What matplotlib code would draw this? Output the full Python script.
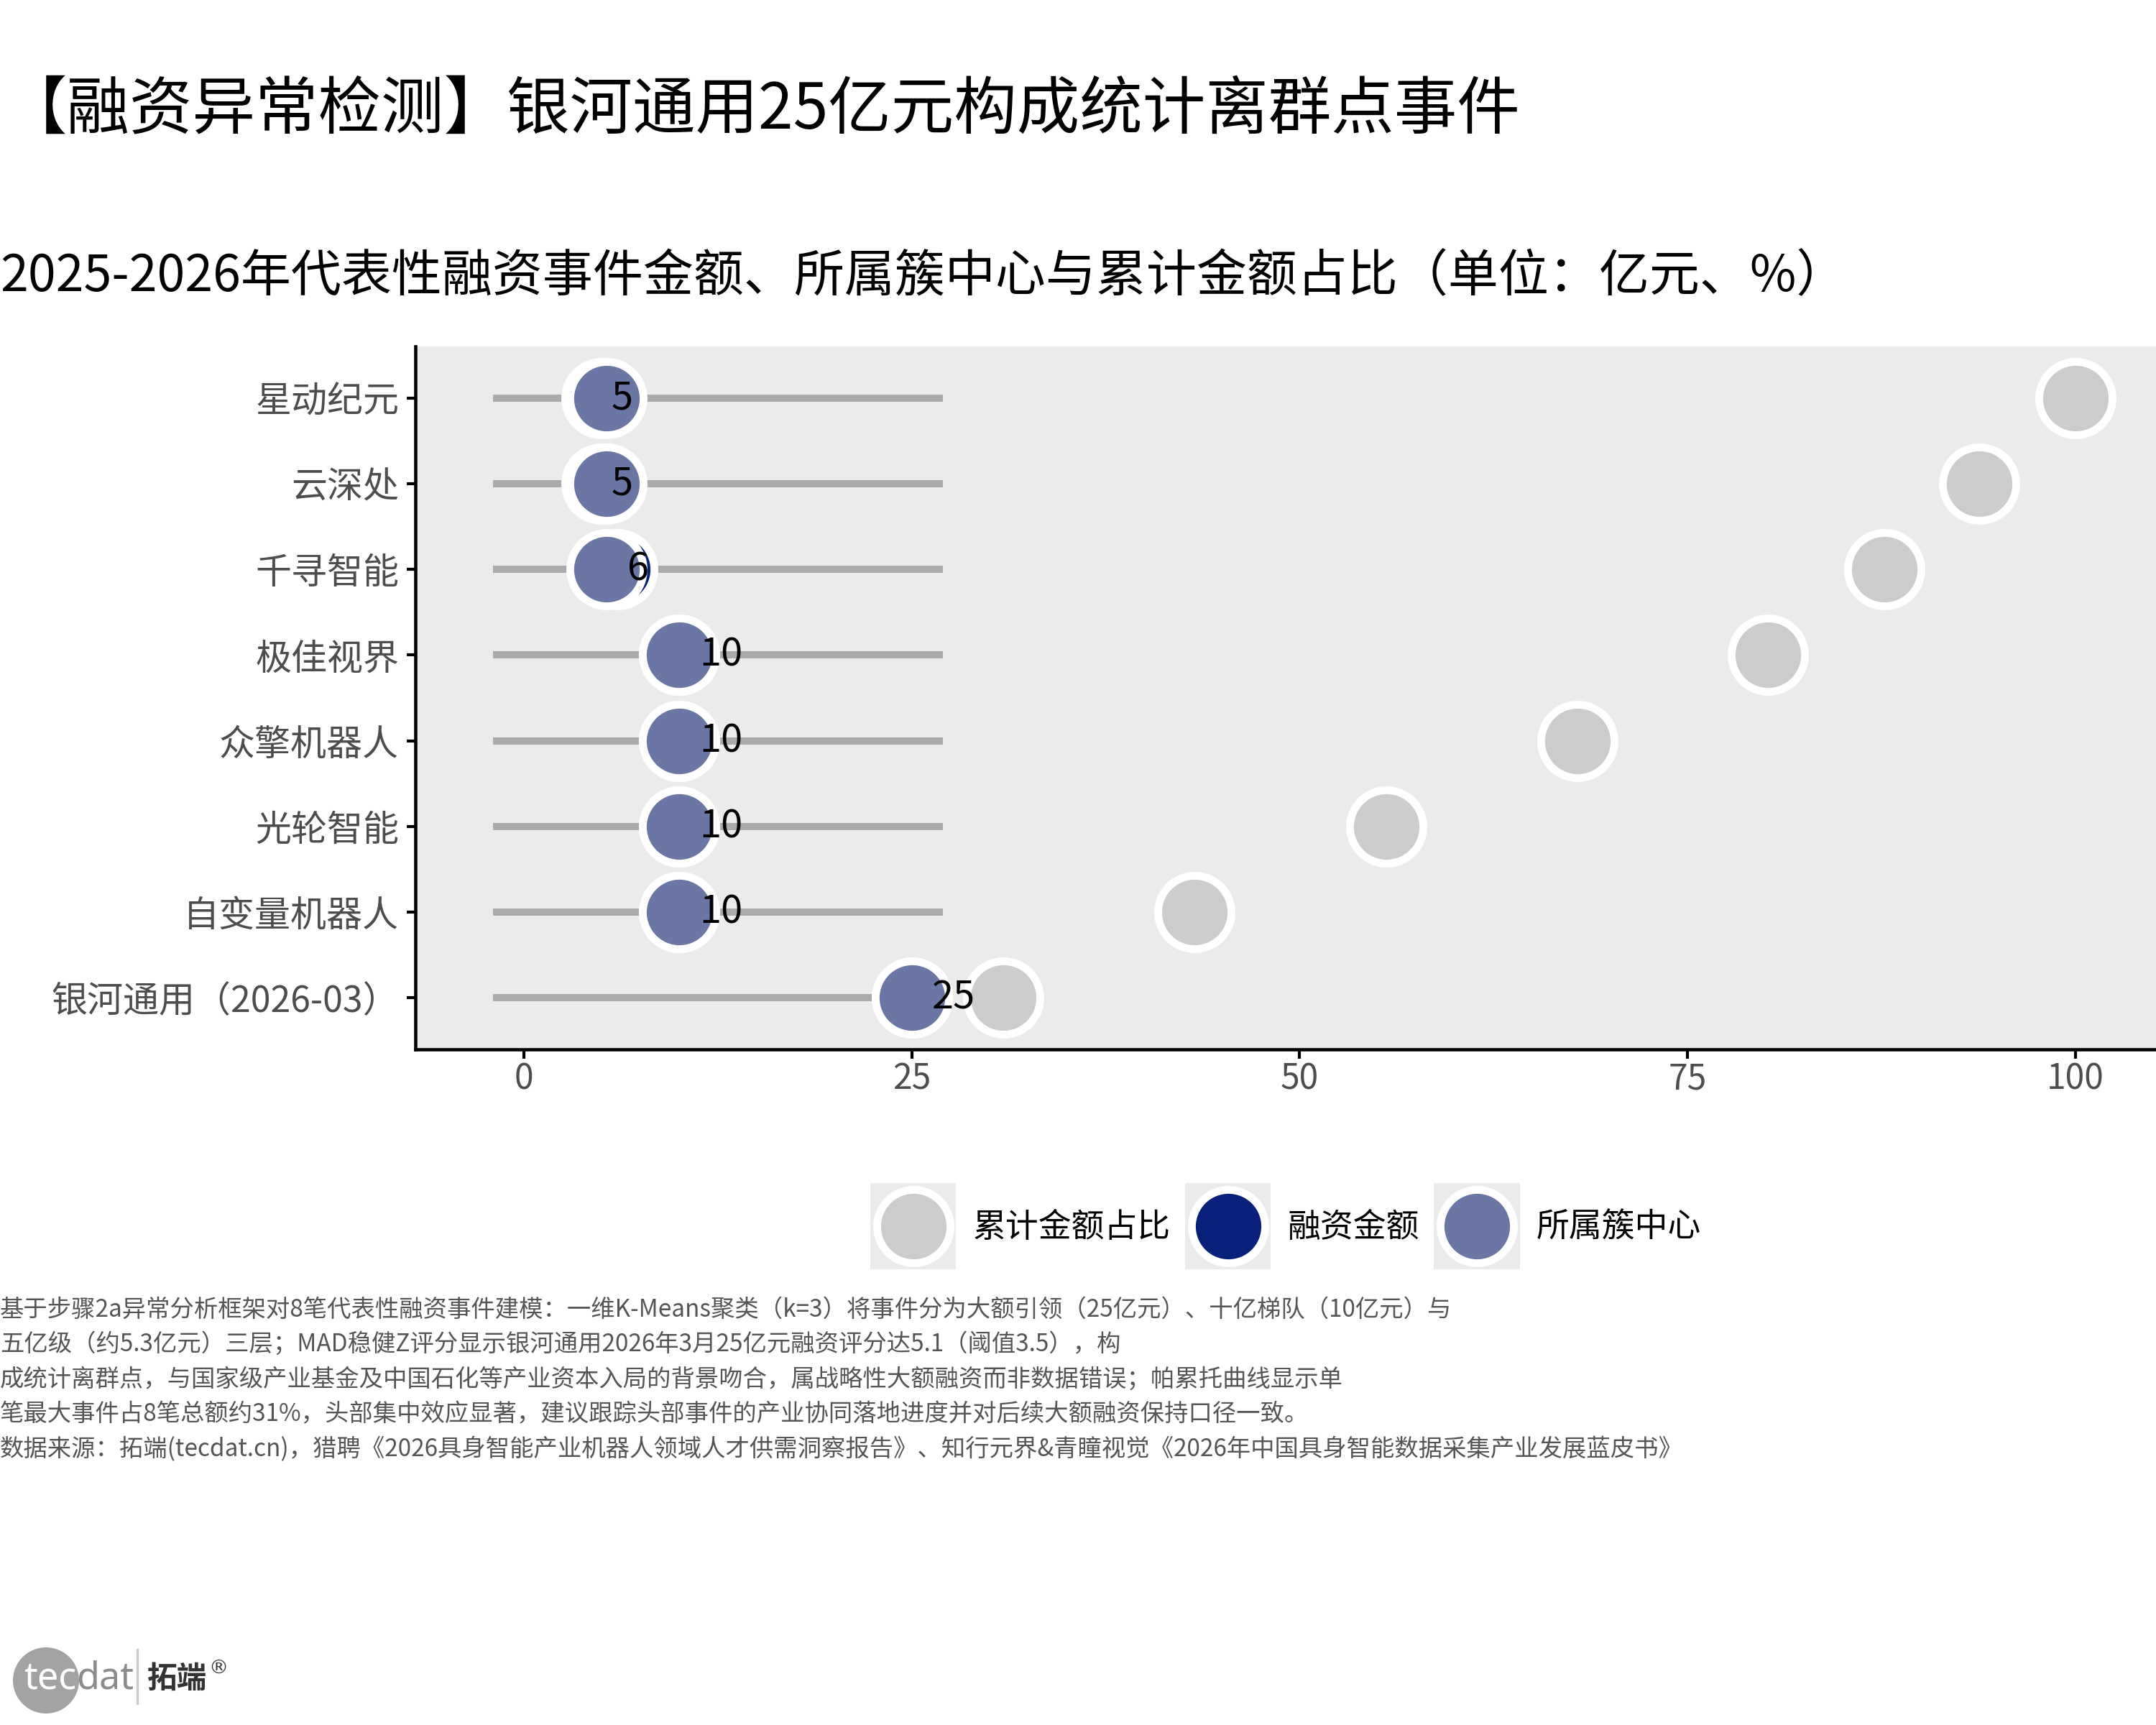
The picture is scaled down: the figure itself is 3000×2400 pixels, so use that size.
import matplotlib
matplotlib.use("Agg")
import matplotlib.pyplot as plt
from matplotlib.lines import Line2D
from matplotlib.patches import Rectangle, Circle
from matplotlib.legend_handler import HandlerBase

plt.rcParams['font.family'] = ['Noto Sans CJK SC', 'DejaVu Sans']

# ---------------- data ----------------
companies = ["银河通用（2026-03）", "自变量机器人", "光轮智能", "众擎机器人",
             "极佳视界", "千寻智能", "云深处", "星动纪元"]
amount = [25, 10, 10, 10, 10, 6, 5, 5]                     # 融资金额（亿元）
cluster_center = [25, 10, 10, 10, 10, 5.33, 5.33, 5.33]    # 所属簇中心
cum_share = [30.9, 43.2, 55.6, 67.9, 80.2, 87.7, 93.8, 100.0]  # 累计金额占比（%）
seg_start = -2
seg_end = 27
x_ticks = [0, 25, 50, 75, 100]

title = "【融资异常检测】银河通用25亿元构成统计离群点事件"
subtitle = "2025-2026年代表性融资事件金额、所属簇中心与累计金额占比（单位：亿元、%）"
legend_labels = ["累计金额占比", "融资金额", "所属簇中心"]
footnote_lines = [
    "基于步骤2a异常分析框架对8笔代表性融资事件建模：一维K-Means聚类（k=3）将事件分为大额引领（25亿元）、十亿梯队（10亿元）与",
    "五亿级（约5.3亿元）三层；MAD稳健Z评分显示银河通用2026年3月25亿元融资评分达5.1（阈值3.5），构",
    "成统计离群点，与国家级产业基金及中国石化等产业资本入局的背景吻合，属战略性大额融资而非数据错误；帕累托曲线显示单",
    "笔最大事件占8笔总额约31%，头部集中效应显著，建议跟踪头部事件的产业协同落地进度并对后续大额融资保持口径一致。",
    "数据来源：拓端(tecdat.cn)，猎聘《2026具身智能产业机器人领域人才供需洞察报告》、知行元界&青瞳视觉《2026年中国具身智能数据采集产业发展蓝皮书》",
]

# ---------------- style ----------------
C_CUM = "#CCCCCC"
C_AMT = "#08207A"
C_CLU = "#6A76A4"
C_SEG = "#AAAAAA"
C_PANEL = "#EBEBEB"
MS = 600      # scatter area (pt^2)
EW = 2.6      # white edge width

W, H = 3000, 2400
fig = plt.figure(figsize=(10, 8), dpi=300)
fig.patch.set_facecolor("white")

ax = fig.add_axes([578 / W, 1 - 1460 / H, 1 - 578 / W, (1460 - 482) / H])
ax.set_facecolor(C_PANEL)

ypos = list(range(len(companies)))
ax.hlines(ypos, seg_start, seg_end, color=C_SEG, lw=2.4, zorder=1)
ax.scatter(cum_share, ypos, s=MS, c=C_CUM, edgecolors="white", linewidths=EW, zorder=2)
ax.scatter(amount, ypos, s=MS, c=C_AMT, edgecolors="white", linewidths=EW, zorder=3)
ax.scatter(cluster_center, ypos, s=MS, c=C_CLU, edgecolors="white", linewidths=EW, zorder=4)

lab_fs = 13
for a, y in zip(amount, ypos):
    s = f"{a:g}"
    w = len(s) * 0.57 * lab_fs
    ax.annotate(s, (a, y), xytext=(0.45 * w, 0), textcoords="offset points",
                ha="left", va="center", fontsize=lab_fs, color="black", zorder=5)

ax.set_xlim(-7, 105.2)
ax.set_ylim(-0.6, len(companies) - 0.4)
ax.set_yticks(ypos)
ax.set_yticklabels(companies, fontsize=12, color="#4D4D4D")
ax.set_xticks(x_ticks)
ax.set_xticklabels([str(t) for t in x_ticks], fontsize=11.5, color="#4D4D4D")
ax.tick_params(axis="both", length=3, width=1, color="black", direction="out")
ax.tick_params(axis="x", pad=1)
ax.tick_params(axis="y", pad=2.5)
for sp in ["top", "right"]:
    ax.spines[sp].set_visible(False)
for sp in ["left", "bottom"]:
    ax.spines[sp].set_color("black")
    ax.spines[sp].set_linewidth(1.1)

# ---------------- legend ----------------
class KeyHandler(HandlerBase):
    def create_artists(self, legend, orig_handle, xdescent, ydescent, width, height, fontsize, trans):
        cx = width / 2 - xdescent
        cy = height / 2 - ydescent
        side = width
        rect = Rectangle((cx - side / 2, cy - side / 2), side, side, facecolor=C_PANEL,
                         edgecolor="none", transform=trans)
        mk = Line2D([cx], [cy], marker="o", linestyle="none",
                    markersize=MS ** 0.5, markerfacecolor=orig_handle.get_markerfacecolor(),
                    markeredgecolor="white", markeredgewidth=EW, transform=trans)
        return [rect, mk]

handles = [Line2D([], [], marker="o", linestyle="none", markerfacecolor=c)
           for c in (C_CUM, C_AMT, C_CLU)]
leg = fig.legend(handles, legend_labels, loc="center", ncol=3, frameon=False,
                 bbox_to_anchor=((578 / W + 1) / 2, 1 - 1706 / H), bbox_transform=fig.transFigure,
                 fontsize=11, handlelength=2.6, handleheight=2.0, handletextpad=0.5,
                 columnspacing=0.45, handler_map={h: KeyHandler() for h in handles})

# ---------------- titles ----------------
fig.text(0.002, 1 - 154 / H, title, fontsize=21, color="black", ha="left", va="center")
fig.text(0.0, 1 - 386 / H, subtitle, fontsize=16.8, color="black", ha="left", va="center")

# ---------------- footnote ----------------
foot_y0 = 1822
for i, line in enumerate(footnote_lines):
    fig.text(0.0, 1 - (foot_y0 + i * 48.7) / H, line, fontsize=8.0, color="#555555",
             ha="left", va="center")

# ---------------- logo ----------------
tr = fig.dpi_scale_trans
fig.patches.append(Circle((64 / 300, (H - 2338) / 300), 46 / 300, transform=tr,
                          facecolor="#A3A3A3", edgecolor="none", figure=fig))
fig.text(106 / W, 1 - 2336 / H, "tec", fontsize=12.5, color="white", ha="right", va="center",
         family=["Noto Sans", "DejaVu Sans"])
fig.text(106 / W, 1 - 2336 / H, "dat", fontsize=12.5, color="#8C8C8C", ha="left", va="center",
         family=["Noto Sans", "DejaVu Sans"])
fig.add_artist(Line2D([191 / W, 191 / W], [1 - 2370 / H, 1 - 2295 / H], color="#CCCCCC",
                      lw=0.8, transform=fig.transFigure))
fig.text(205 / W, 1 - 2336 / H, "拓端", fontsize=10, color="#333333", ha="left", va="center",
         fontweight="bold")
fig.text(290 / W, 1 - 2322 / H, "®", fontsize=6.5, color="#333333", ha="left", va="center",
         family=["DejaVu Sans"])

fig.savefig("out.png", dpi=300, facecolor="white")
